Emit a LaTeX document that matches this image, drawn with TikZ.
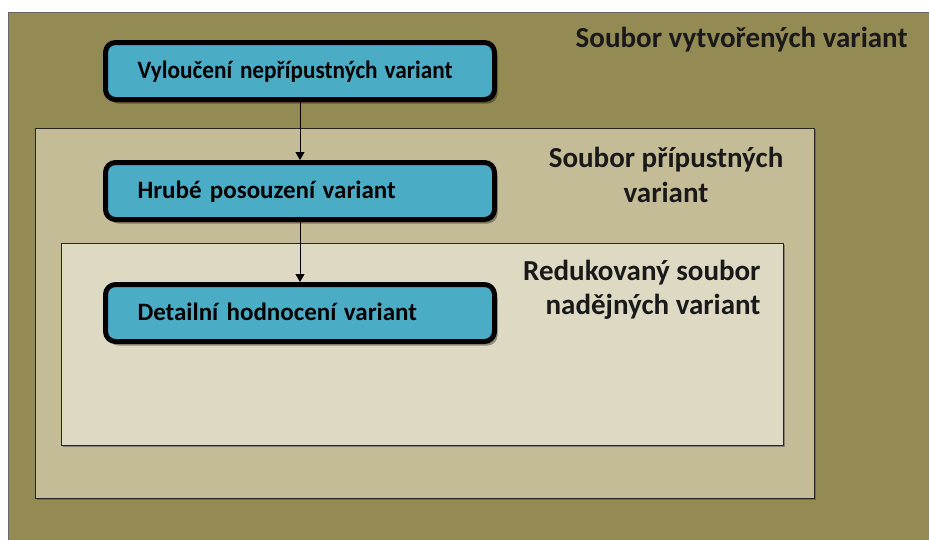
\documentclass[tikz,border=0pt]{standalone}
\usepackage{fontspec}
\setmainfont{Carlito}
\usetikzlibrary{arrows.meta,shadows}
\definecolor{olive}{HTML}{948A54}
\definecolor{sand}{HTML}{C4BC96}
\definecolor{pale}{HTML}{DDD9C3}
\definecolor{teal}{HTML}{4BACC6}
\newcommand{\wsp}{\hspace{0.3em}}
\tikzset{
  setbox/.style={draw=black!85, line width=1.3pt, drop shadow={shadow xshift=1.5pt, shadow yshift=-1.5pt, opacity=0.5, fill=black!70}},
  stepbox/.style={draw=black, line width=5pt, rounded corners=10pt, fill=teal,
    minimum width=389pt, minimum height=57pt, text width=325pt, align=left,
    font=\fontsize{25}{28}\selectfont\bfseries, inner xsep=0pt, text depth=3pt,
    drop shadow={shadow xshift=3pt, shadow yshift=-4pt, opacity=0.35, fill=black}},
  settitle/.style={font=\fontsize{29}{34.5}\selectfont\bfseries, text=black!90},
  flow/.style={-{Triangle[length=8pt,width=9pt]}, line width=1pt}
}
\begin{document}
\begin{tikzpicture}[x=1pt,y=-1pt]
\useasboundingbox (0,0) rectangle (929,539);
\fill[white] (0,0) rectangle (929,539);
% outer set of all variants
\fill[olive] (8,12) rectangle (935,545);
\draw[black!60, line width=1pt] (8,545) -- (8,12) -- (935,12);
% nested sets
\node[setbox, fill=sand, minimum width=779pt, minimum height=370pt, anchor=north west, inner sep=0pt] (mid) at (35,128) {};
\node[setbox, fill=pale, minimum width=722pt, minimum height=202pt, anchor=north west, inner sep=0pt] (inner) at (61,243) {};
% set titles
\node[settitle, anchor=east] (t1) at (911,40) {Soubor vytvořených variant};
\node[settitle, align=center] (t2) at (666,175) {Soubor přípustných\\variant};
\node[settitle, align=right, anchor=east] (t3) at (764,290) {Redukovaný soubor\\nadějných variant};
% process steps
\node[stepbox] (s1) at (300,71) {\scalebox{0.93}[1]{Vyloučení nepřípustných\wsp variant}};
\node[stepbox] (s2) at (300,191) {Hrubé posouzení\wsp variant};
\node[stepbox] (s3) at (300,313) {Detailní hodnocení\wsp variant};
\draw[flow] (s1.south) -- (s2.north);
\draw[flow] (s2.south) -- (s3.north);
\end{tikzpicture}
\end{document}
